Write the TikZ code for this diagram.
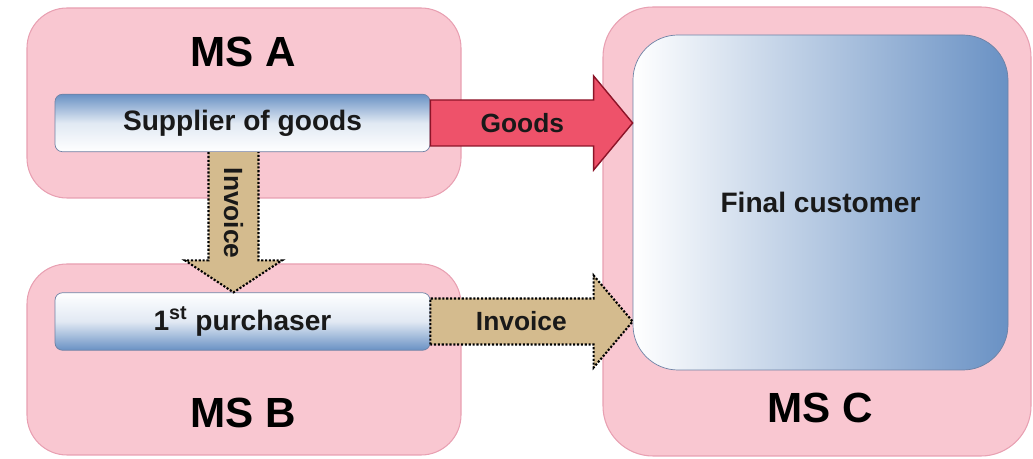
\documentclass[tikz,border=0pt]{standalone}
\usepackage{fontspec}
\setmainfont{Liberation Sans}

\definecolor{mspink}{RGB}{249,199,209}
\definecolor{msedge}{RGB}{232,160,178}
\definecolor{boxblue}{RGB}{105,145,196}
\definecolor{boxedge}{RGB}{110,130,165}
\definecolor{goodsred}{RGB}{238,82,106}
\definecolor{goodsedge}{RGB}{140,20,40}
\definecolor{invtan}{RGB}{212,187,142}

\tikzset{
  msbox/.style={draw=msedge, fill=mspink, rounded corners=0.8cm, line width=0.6pt},
  mslabel/.style={font=\fontsize{24}{28}\selectfont\bfseries},
  partybox/.style={draw=boxedge, rounded corners=0.15cm, minimum width=7.5cm, minimum height=1.15cm, font=\fontsize{16}{19}\selectfont\bfseries, text=black!90},
  goodsarrow/.style={draw=goodsedge, fill=goodsred, line width=0.8pt},
  invarrow/.style={draw=black, fill=invtan, densely dotted, line width=1.2pt},
  arrowlabel/.style={font=\fontsize{15}{18}\selectfont\bfseries, text=black!90}
}

\begin{document}
\begin{tikzpicture}
\useasboundingbox (0,0) rectangle (20.66,9.18);

% Member states
\node[msbox, minimum width=8.68cm, minimum height=3.8cm] (msa) at (4.88,7.12) {};
\node[msbox, minimum width=8.68cm, minimum height=3.82cm] (msb) at (4.88,1.99) {};
\node[msbox, rounded corners=1cm, minimum width=8.56cm, minimum height=8.98cm] (msc) at (16.34,4.55) {};

\node[mslabel] (labela) at (4.86,8.14) {MS A};
\node[mslabel] (labelb) at (4.86,0.92) {MS B};
\node[mslabel] (labelc) at (16.4,1.02) {MS C};

% Parties
\node[partybox, top color=boxblue, bottom color=white, middle color=white!80!boxblue] (sup) at (4.85,6.72) {Supplier of goods};
\node[partybox, top color=white, bottom color=boxblue, middle color=white!80!boxblue] (pur) at (4.85,2.75) {1\textsuperscript{st} purchaser};
\node[partybox, rounded corners=0.9cm, left color=white, right color=boxblue, minimum height=6.7cm] (fc) at (16.41,5.13) {Final customer};

% Goods
\coordinate (gtip) at (fc.west |- sup.east);
\draw[goodsarrow] ([yshift=-0.46cm]sup.east) -- ([yshift=0.46cm]sup.east) -- ([shift={(-0.78,0.46)}]gtip) -- ([shift={(-0.78,0.94)}]gtip) -- (gtip) -- ([shift={(-0.78,-0.94)}]gtip) -- ([shift={(-0.78,-0.46)}]gtip) -- cycle;
\node[arrowlabel] (goodslbl) at ([xshift=1.84cm]sup.east) {Goods};

% Invoice to purchaser
\coordinate (vstart) at ([xshift=-0.18cm]sup.south);
\coordinate (vtip) at (vstart |- pur.north);
\draw[invarrow] ([xshift=-0.5cm]vstart) -- ([shift={(-0.5,0.64)}]vtip) -- ([shift={(-0.97,0.64)}]vtip) -- (vtip) -- ([shift={(0.97,0.64)}]vtip) -- ([shift={(0.5,0.64)}]vtip) -- ([xshift=0.5cm]vstart);
\node[arrowlabel, rotate=-90] (invlbla) at ([yshift=-1.22cm]vstart) {Invoice};

% Invoice to customer
\coordinate (htip) at (fc.west |- pur.east);
\draw[invarrow] ([yshift=-0.46cm]pur.east) -- ([yshift=0.46cm]pur.east) -- ([shift={(-0.78,0.46)}]htip) -- ([shift={(-0.78,0.92)}]htip) -- (htip) -- ([shift={(-0.78,-0.92)}]htip) -- ([shift={(-0.78,-0.46)}]htip) -- cycle;
\node[arrowlabel] (invlblb) at ([xshift=1.82cm]pur.east) {Invoice};

\end{tikzpicture}
\end{document}
